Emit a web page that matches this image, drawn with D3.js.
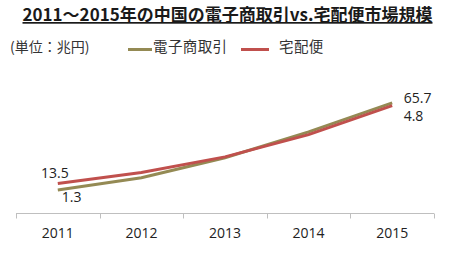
<!DOCTYPE html>
<html>
<head>
<meta charset="utf-8">
<script src="https://cdn.jsdelivr.net/npm/d3@7"></script>
<style>
  body { margin: 0; background: #fff; }
  text { font-family: "Open Sans", "Noto Sans CJK JP", sans-serif; }
  .jp { font-family: "Noto Sans CJK JP", sans-serif; }
</style>
</head>
<body>
<div id="chart"></div>
<script>
// Data
var years = ['2011', '2012', '2013', '2014', '2015']
var ecValues = [13.5, 20.8, 32.8, 48.3, 65.7]       // 電子商取引
var deliveryValues = [1.3, 1.8, 2.5, 3.5, 4.8]     // 宅配便
var seriesNames = ['電子商取引', '宅配便']
var title = '2011～2015年の中国の電子商取引vs.宅配便市場規模'
var unitLabel = '(単位：兆円)'

// Dimensions
var width = 450
var height = 253
var axisY = 213.5

var olive = '#948A54'
var red = '#C0504D'

var svg = d3.select('#chart').append('svg')
  .attr('width', width)
  .attr('height', height)

// Scales
var x = d3.scaleBand().domain(years).range([16, 434])
var cx = function (d) { return x(d) + x.bandwidth() / 2 }
var yEC = d3.scaleLinear().domain([0, 80]).range([212.5, 79])
var yDel = d3.scaleLinear().domain([0, 6]).range([212.5, 79])

// Title
svg.append('text')
  .attr('class', 'jp')
  .attr('x', 227.5)
  .attr('y', 21)
  .attr('text-anchor', 'middle')
  .attr('font-size', 17)
  .attr('font-weight', 'bold')
  .attr('fill', '#1a1a1a')
  .attr('text-decoration', 'underline')
  .text(title)

// Legend
svg.append('text')
  .attr('class', 'jp')
  .attr('x', 10)
  .attr('y', 52)
  .attr('font-size', 14)
  .attr('fill', '#333')
  .text(unitLabel)

var legend = [
  { name: seriesNames[0], color: olive, x0: 128, x1: 152, tx: 153 },
  { name: seriesNames[1], color: red, x0: 241, x1: 269, tx: 279 }
]
legend.forEach(function (l) {
  svg.append('line')
    .attr('x1', l.x0).attr('x2', l.x1)
    .attr('y1', 49.5).attr('y2', 49.5)
    .attr('stroke', l.color)
    .attr('stroke-width', 3)
  svg.append('text')
    .attr('class', 'jp')
    .attr('x', l.tx)
    .attr('y', 52)
    .attr('font-size', 14.5)
    .attr('letter-spacing', 0.4)
    .attr('fill', '#333')
    .text(l.name)
})

// Axis
var gAxis = svg.append('g')
gAxis.append('line')
  .attr('x1', x.range()[0]).attr('x2', x.range()[1])
  .attr('y1', axisY).attr('y2', axisY)
  .attr('stroke', '#bfbfbf')
  .attr('stroke-width', 1)
var tickPos = years.map(function (d) { return x(d) }).concat([x.range()[1]])
gAxis.selectAll('.tick')
  .data(tickPos)
  .enter().append('line')
  .attr('class', 'tick')
  .attr('x1', function (d) { return Math.round(d) + 0.5 })
  .attr('x2', function (d) { return Math.round(d) + 0.5 })
  .attr('y1', axisY)
  .attr('y2', axisY + 5)
  .attr('stroke', '#bfbfbf')
gAxis.selectAll('.label')
  .data(years)
  .enter().append('text')
  .attr('class', 'label')
  .attr('x', cx)
  .attr('y', 238)
  .attr('text-anchor', 'middle')
  .attr('font-size', 14)
  .attr('fill', '#222')
  .text(function (d) { return d })

// Lines
var lineEC = d3.line()
  .x(function (d, i) { return cx(years[i]) })
  .y(function (d) { return yEC(d) })
var lineDel = d3.line()
  .x(function (d, i) { return cx(years[i]) })
  .y(function (d) { return yDel(d) })

svg.append('path')
  .datum(ecValues)
  .attr('d', lineEC)
  .attr('fill', 'none')
  .attr('stroke', olive)
  .attr('stroke-width', 3)
svg.append('path')
  .datum(deliveryValues)
  .attr('d', lineDel)
  .attr('fill', 'none')
  .attr('stroke', red)
  .attr('stroke-width', 3)

// Data labels
var first = years[0]
var last = years[years.length - 1]
var labels = [
  { t: ecValues[0], x: cx(first) + 11, y: yEC(ecValues[0]) - 12, anchor: 'end' },
  { t: deliveryValues[0], x: cx(first) + 4, y: yDel(deliveryValues[0]) + 18.5, anchor: 'start' },
  { t: ecValues[4], x: cx(last) + 11.5, y: yEC(ecValues[4]) + 0.5, anchor: 'start' },
  { t: deliveryValues[4], x: cx(last) + 11.5, y: yDel(deliveryValues[4]) + 15.5, anchor: 'start' }
]
svg.selectAll('.dlabel')
  .data(labels)
  .enter().append('text')
  .attr('class', 'dlabel')
  .attr('x', function (d) { return d.x })
  .attr('y', function (d) { return d.y })
  .attr('text-anchor', function (d) { return d.anchor })
  .attr('font-size', 14)
  .attr('fill', '#222')
  .text(function (d) { return d3.format('.1f')(d.t) })
</script>
</body>
</html>
